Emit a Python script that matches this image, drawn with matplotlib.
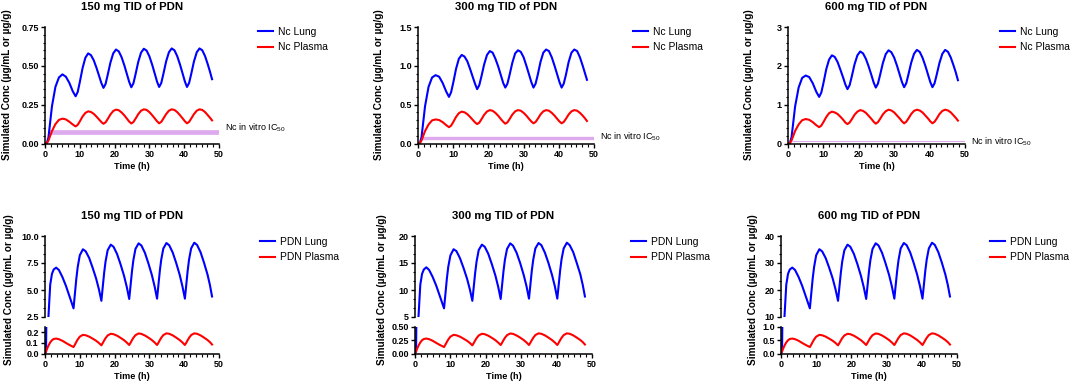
import matplotlib
matplotlib.use("Agg")
import matplotlib.pyplot as plt
from matplotlib.ticker import AutoMinorLocator

plt.rcParams['font.family'] = ['Liberation Sans', 'DejaVu Sans']
plt.rcParams['mathtext.default'] = 'regular'

# ---------------- data ----------------
doses = ["150", "300", "600"]

t_nc = [0, 0.5, 1, 1.5, 2, 3, 4, 5, 6, 7, 8, 8.8,
        9.4, 10, 10.8, 11.6, 12.4, 13.2, 14, 14.8, 15.6, 16.2, 16.8,
        17.4, 18, 18.8, 19.6, 20.4, 21.2, 22, 22.8, 23.6, 24.2, 24.8,
        25.4, 26, 26.8, 27.6, 28.4, 29.2, 30, 30.8, 31.6, 32.2, 32.8,
        33.4, 34, 34.8, 35.6, 36.4, 37.2, 38, 38.8, 39.6, 40.2, 40.8,
        41.4, 42, 42.8, 43.6, 44.4, 45.2, 46, 46.8, 47.4, 48]

nc_lung_150 = [0, 0, 0.04, 0.14, 0.24, 0.365, 0.425, 0.445, 0.43, 0.39, 0.335, 0.304,
               0.332, 0.395, 0.486, 0.552, 0.58, 0.569, 0.536, 0.487, 0.431, 0.389, 0.358,
               0.383, 0.44, 0.521, 0.58, 0.605, 0.593, 0.556, 0.503, 0.442, 0.396, 0.362,
               0.387, 0.444, 0.526, 0.585, 0.61, 0.598, 0.561, 0.507, 0.445, 0.398, 0.364,
               0.389, 0.446, 0.528, 0.587, 0.612, 0.6, 0.562, 0.508, 0.446, 0.399, 0.364,
               0.389, 0.446, 0.528, 0.587, 0.612, 0.6, 0.562, 0.508, 0.463, 0.414]
nc_plasma_150 = [0, 0, 0.02, 0.05, 0.08, 0.125, 0.152, 0.16, 0.155, 0.14, 0.122, 0.11,
                 0.12, 0.142, 0.174, 0.197, 0.207, 0.203, 0.191, 0.173, 0.153, 0.138, 0.127,
                 0.136, 0.157, 0.187, 0.209, 0.218, 0.214, 0.2, 0.181, 0.158, 0.141, 0.129,
                 0.138, 0.159, 0.189, 0.211, 0.22, 0.216, 0.202, 0.182, 0.16, 0.143, 0.13,
                 0.139, 0.16, 0.189, 0.211, 0.22, 0.216, 0.202, 0.182, 0.16, 0.143, 0.13,
                 0.139, 0.16, 0.189, 0.211, 0.22, 0.216, 0.202, 0.182, 0.166, 0.149]
nc_lung_300 = [0, 0, 0.08, 0.28, 0.48, 0.73, 0.85, 0.88, 0.86, 0.78, 0.67, 0.6,
               0.66, 0.78, 0.96, 1.09, 1.14, 1.12, 1.06, 0.96, 0.85, 0.77, 0.70,
               0.75, 0.86, 1.02, 1.14, 1.19, 1.17, 1.09, 0.99, 0.87, 0.78, 0.72,
               0.77, 0.88, 1.04, 1.16, 1.2, 1.18, 1.11, 1.0, 0.88, 0.79, 0.72,
               0.77, 0.88, 1.05, 1.17, 1.21, 1.19, 1.11, 1.0, 0.88, 0.79, 0.72,
               0.77, 0.88, 1.05, 1.17, 1.21, 1.19, 1.11, 1.0, 0.91, 0.82]
nc_plasma_300 = [0, 0, 0.04, 0.1, 0.16, 0.245, 0.298, 0.31, 0.302, 0.275, 0.237, 0.21,
                 0.23, 0.275, 0.342, 0.39, 0.41, 0.402, 0.378, 0.342, 0.302, 0.272, 0.25,
                 0.268, 0.31, 0.37, 0.412, 0.43, 0.421, 0.394, 0.357, 0.311, 0.28, 0.255,
                 0.272, 0.313, 0.372, 0.414, 0.43, 0.422, 0.395, 0.358, 0.314, 0.283, 0.26,
                 0.277, 0.316, 0.374, 0.414, 0.43, 0.422, 0.395, 0.358, 0.314, 0.283, 0.26,
                 0.277, 0.316, 0.374, 0.414, 0.43, 0.422, 0.395, 0.358, 0.326, 0.29]
nc_lung_600 = [0, 0, 0.16, 0.55, 0.95, 1.44, 1.69, 1.75, 1.71, 1.55, 1.33, 1.2,
               1.31, 1.55, 1.91, 2.16, 2.27, 2.23, 2.10, 1.90, 1.69, 1.52, 1.4,
               1.50, 1.72, 2.04, 2.27, 2.37, 2.32, 2.18, 1.98, 1.75, 1.57, 1.44,
               1.54, 1.76, 2.07, 2.30, 2.4, 2.35, 2.21, 2.00, 1.76, 1.58, 1.45,
               1.55, 1.77, 2.08, 2.31, 2.41, 2.36, 2.21, 2.00, 1.76, 1.58, 1.45,
               1.55, 1.77, 2.08, 2.31, 2.41, 2.36, 2.21, 2.00, 1.83, 1.63]
nc_plasma_600 = [0, 0, 0.08, 0.2, 0.32, 0.49, 0.6, 0.63, 0.61, 0.55, 0.47, 0.42,
                 0.46, 0.55, 0.68, 0.78, 0.82, 0.80, 0.76, 0.69, 0.61, 0.54, 0.5,
                 0.54, 0.62, 0.74, 0.82, 0.86, 0.84, 0.79, 0.71, 0.63, 0.56, 0.51,
                 0.55, 0.63, 0.75, 0.83, 0.87, 0.85, 0.80, 0.72, 0.64, 0.57, 0.52,
                 0.56, 0.64, 0.76, 0.84, 0.87, 0.85, 0.80, 0.72, 0.64, 0.57, 0.52,
                 0.56, 0.64, 0.76, 0.84, 0.87, 0.85, 0.80, 0.72, 0.66, 0.59]

nc_ic50 = 0.075
ic50_t = [1, 50]

t_pdn = [0, 0.3, 0.6, 1.0, 1.5, 2.0, 2.5, 3.2, 4, 5, 6, 7, 8.2,
         8.6, 9.0, 9.4, 10.0, 10.9, 11.7, 12.7, 13.7, 14.7, 15.5, 16.2,
         16.6, 17.0, 17.4, 18.0, 18.9, 19.7, 20.7, 21.7, 22.7, 23.5, 24.2,
         24.6, 25.0, 25.4, 26.0, 26.9, 27.7, 28.7, 29.7, 30.7, 31.5, 32.2,
         32.6, 33.0, 33.4, 34.0, 34.9, 35.7, 36.7, 37.7, 38.7, 39.5, 40.2,
         40.6, 41.0, 41.4, 42.0, 42.9, 43.7, 44.7, 45.7, 46.7, 47.4, 48.0]

pdn_lung_150 = [0, 0.02, 1.0, 2.6, 5.5, 6.5, 6.9, 7.07, 6.85, 6.2, 5.4, 4.45, 3.3,
                4.67, 6.04, 7.13, 8.22, 8.77, 8.58, 7.96, 7.05, 6.05, 5.05, 4.0,
                5.3, 6.6, 7.64, 8.68, 9.2, 9.0, 8.34, 7.39, 6.33, 5.28, 4.17,
                5.46, 6.75, 7.78, 8.81, 9.32, 9.12, 8.45, 7.48, 6.4, 5.33, 4.2,
                5.49, 6.78, 7.81, 8.84, 9.35, 9.14, 8.47, 7.5, 6.41, 5.33, 4.2,
                5.5, 6.79, 7.83, 8.86, 9.38, 9.17, 8.5, 7.52, 6.43, 5.45, 4.4]
pdn_plasma_150 = [0, 0.02, 0.045, 0.075, 0.105, 0.125, 0.137, 0.141, 0.135, 0.12, 0.1, 0.081, 0.061,
                  0.084, 0.109, 0.132, 0.159, 0.176, 0.172, 0.159, 0.14, 0.12, 0.099, 0.077,
                  0.099, 0.123, 0.145, 0.17, 0.186, 0.182, 0.168, 0.148, 0.126, 0.103, 0.08,
                  0.102, 0.126, 0.148, 0.173, 0.189, 0.185, 0.17, 0.15, 0.127, 0.104, 0.08,
                  0.102, 0.126, 0.148, 0.174, 0.19, 0.186, 0.171, 0.15, 0.127, 0.104, 0.08,
                  0.102, 0.126, 0.148, 0.174, 0.19, 0.186, 0.171, 0.15, 0.127, 0.107, 0.085]
pdn_lung_300 = [0, 0.04, 2.0, 5.2, 11.0, 13.0, 13.8, 14.2, 13.7, 12.4, 10.8, 8.9, 6.6,
                9.3, 12.1, 14.3, 16.4, 17.55, 17.2, 15.9, 14.1, 12.1, 10.1, 8.0,
                10.6, 13.2, 15.3, 17.4, 18.4, 18.0, 16.7, 14.8, 12.7, 10.6, 8.34,
                10.9, 13.5, 15.6, 17.6, 18.64, 18.2, 16.9, 15.0, 12.8, 10.7, 8.4,
                11.0, 13.6, 15.6, 17.7, 18.7, 18.3, 16.9, 15.0, 12.8, 10.7, 8.4,
                11.0, 13.6, 15.7, 17.7, 18.76, 18.3, 17.0, 15.0, 12.9, 10.9, 8.8]
pdn_plasma_300 = [0, 0.04, 0.09, 0.15, 0.21, 0.25, 0.274, 0.282, 0.27, 0.24, 0.2, 0.162, 0.122,
                  0.168, 0.218, 0.264, 0.318, 0.352, 0.344, 0.318, 0.28, 0.24, 0.198, 0.154,
                  0.198, 0.246, 0.29, 0.34, 0.372, 0.364, 0.336, 0.296, 0.252, 0.206, 0.16,
                  0.204, 0.252, 0.296, 0.346, 0.378, 0.37, 0.34, 0.3, 0.254, 0.208, 0.16,
                  0.204, 0.252, 0.296, 0.348, 0.38, 0.372, 0.342, 0.3, 0.254, 0.208, 0.16,
                  0.204, 0.252, 0.296, 0.348, 0.38, 0.372, 0.342, 0.3, 0.254, 0.214, 0.17]
pdn_lung_600 = [0, 0.08, 4.0, 10.4, 22.0, 26.0, 27.6, 28.3, 27.4, 24.8, 21.6, 17.8, 13.2,
                18.7, 24.2, 28.5, 32.9, 35.1, 34.3, 31.8, 28.2, 24.2, 20.2, 16.0,
                21.2, 26.4, 30.6, 34.7, 36.8, 36.0, 33.4, 29.6, 25.3, 21.1, 16.7,
                21.8, 27.0, 31.1, 35.2, 37.3, 36.5, 33.8, 29.9, 25.6, 21.3, 16.8,
                22.0, 27.1, 31.2, 35.4, 37.4, 36.6, 33.9, 30.0, 25.6, 21.3, 16.8,
                22.0, 27.2, 31.3, 35.4, 37.5, 36.7, 34.0, 30.1, 25.7, 21.8, 17.6]
pdn_plasma_600 = [0, 0.08, 0.18, 0.3, 0.42, 0.5, 0.548, 0.564, 0.54, 0.48, 0.4, 0.324, 0.244,
                  0.336, 0.436, 0.528, 0.636, 0.704, 0.688, 0.636, 0.56, 0.48, 0.396, 0.308,
                  0.396, 0.492, 0.58, 0.68, 0.744, 0.728, 0.672, 0.592, 0.504, 0.412, 0.32,
                  0.408, 0.504, 0.592, 0.692, 0.756, 0.74, 0.68, 0.6, 0.508, 0.416, 0.32,
                  0.408, 0.504, 0.592, 0.696, 0.76, 0.744, 0.684, 0.6, 0.508, 0.416, 0.32,
                  0.408, 0.504, 0.592, 0.696, 0.76, 0.744, 0.684, 0.6, 0.508, 0.428, 0.34]

x_ticks = [0, 10, 20, 30, 40, 50]
nc_yticks = [[0, 0.25, 0.5, 0.75], [0, 0.5, 1.0, 1.5], [0, 1, 2, 3]]
nc_ylabels = [["0.00", "0.25", "0.50", "0.75"], ["0.0", "0.5", "1.0", "1.5"], ["0", "1", "2", "3"]]
pdn_up_ticks = [[2.5, 5, 7.5, 10], [5, 10, 15, 20], [10, 20, 30, 40]]
pdn_up_labels = [["2.5", "5.0", "7.5", "10.0"], ["5", "10", "15", "20"], ["10", "20", "30", "40"]]
pdn_lo_ticks = [[0, 0.1, 0.2], [0, 0.25, 0.5], [0, 0.5, 1.0]]
pdn_lo_labels = [["0.0", "0.1", "0.2"], ["0.00", "0.25", "0.50"], ["0.0", "0.5", "1.0"]]
pdn_lo_lim = [0.25, 0.5, 1.0]

nc_lung = [nc_lung_150, nc_lung_300, nc_lung_600]
nc_plasma = [nc_plasma_150, nc_plasma_300, nc_plasma_600]
pdn_lung = [pdn_lung_150, pdn_lung_300, pdn_lung_600]
pdn_plasma = [pdn_plasma_150, pdn_plasma_300, pdn_plasma_600]

# ---------------- layout ----------------
W, H = 1072, 385
fig = plt.figure(figsize=(W / 100, H / 100), dpi=100)

BLUE = '#0000FF'
RED = '#FF0000'
IC_COL = '#DDAAEE'
LW = 1.5
FS_TICK = 6.5
FS_LAB = 6.6
FS_YLAB = 7.2
FS_TITLE = 8.2
FS_LEG = 7.4


def add_ax(x0, x1, ytop, ybot):
    return fig.add_axes([x0 / W, 1 - ybot / H, (x1 - x0) / W, (ybot - ytop) / H])


def style(ax, show_x=True):
    for s in ['top', 'right']:
        ax.spines[s].set_visible(False)
    ax.spines['left'].set_linewidth(1.1)
    ax.spines['bottom'].set_linewidth(1.1)
    ax.tick_params(which='major', direction='out', length=3, width=1.0, pad=1.5,
                   labelsize=FS_TICK)
    ax.tick_params(which='minor', direction='out', length=1.8, width=0.8)
    for lab in ax.get_xticklabels() + ax.get_yticklabels():
        lab.set_fontweight('bold')
    if not show_x:
        ax.spines['bottom'].set_visible(False)
        ax.tick_params(axis='x', which='both', bottom=False, labelbottom=False)


top_x = [(45, 219), (418, 594), (788, 965)]
bot_x = [(45, 219), (415, 592), (781, 957)]
top_leg = [(258, 27), (633, 27), (1000, 27)]
bot_leg = [(260, 237), (631, 237), (990, 237)]
ylab_top_x = [7, 379, 749]
ylab_bot_x = [9, 382, 753]
ic_dy = [3, 1, -0.5]
ic_lw = [3.4, 2.4, 0.8]

for i, d in enumerate(doses):
    # ---- top row: Nc ----
    x0, x1 = top_x[i]
    ax = add_ax(x0, x1, 27, 143.5)
    ax.plot(t_nc, nc_lung[i], color=BLUE, lw=LW, label='Nc Lung')
    ax.plot(t_nc, nc_plasma[i], color=RED, lw=LW, label='Nc Plasma')
    ax.plot(ic50_t, [nc_ic50, nc_ic50], color=IC_COL, lw=ic_lw[i], zorder=1,
            solid_capstyle='butt')
    ax.annotate('Nc in vitro IC$_{50}$', xy=(50, nc_ic50), xytext=(4, ic_dy[i]),
                textcoords='offset points', va='center', ha='left', fontsize=6.5,
                annotation_clip=False)
    ax.set_xlim(0, 50)
    ax.set_ylim(nc_yticks[i][0], nc_yticks[i][-1])
    ax.set_xticks(x_ticks)
    ax.set_xticklabels([str(v) for v in x_ticks])
    ax.set_yticks(nc_yticks[i])
    ax.set_yticklabels(nc_ylabels[i])
    ax.xaxis.set_minor_locator(AutoMinorLocator(6))
    ax.yaxis.set_minor_locator(AutoMinorLocator(5))
    style(ax)
    ax.set_title(f'{d} mg TID of PDN', fontsize=FS_TITLE, fontweight='bold', pad=12)
    ax.set_xlabel('Time (h)', fontsize=FS_LAB, fontweight='bold', labelpad=2)
    fig.text(ylab_top_x[i] / W, 1 - 85 / H, 'Simulated Conc (µg/mL or µg/g)',
             rotation=90, ha='center', va='center', fontsize=FS_YLAB, fontweight='bold')
    lx, ly = top_leg[i]
    ax.legend(loc='upper left', bbox_to_anchor=(lx / W, 1 - ly / H),
              bbox_transform=fig.transFigure, frameon=False, fontsize=FS_LEG,
              handlelength=1.5, handletextpad=0.45, labelspacing=0.5,
              borderpad=0, borderaxespad=0)

    # ---- bottom row: PDN (broken axis) ----
    x0, x1 = bot_x[i]
    axu = add_ax(x0, x1, 236, 317)
    axl = add_ax(x0, x1, 327, 353.5)
    for a in (axu, axl):
        a.plot(t_pdn, pdn_lung[i], color=BLUE, lw=LW, label='PDN Lung')
        a.plot(t_pdn, pdn_plasma[i], color=RED, lw=LW, label='PDN Plasma')
        a.set_xlim(0, 50)
    axu.set_ylim(pdn_up_ticks[i][0], pdn_up_ticks[i][-1])
    axu.set_yticks(pdn_up_ticks[i])
    axu.set_yticklabels(pdn_up_labels[i])
    axu.yaxis.set_minor_locator(AutoMinorLocator(3))
    style(axu, show_x=False)
    axl.set_ylim(0, pdn_lo_lim[i])
    axl.set_yticks(pdn_lo_ticks[i])
    axl.set_yticklabels(pdn_lo_labels[i])
    axl.set_xticks(x_ticks)
    axl.set_xticklabels([str(v) for v in x_ticks])
    axl.xaxis.set_minor_locator(AutoMinorLocator(6))
    style(axl)
    axu.set_title(f'{d} mg TID of PDN', fontsize=FS_TITLE, fontweight='bold', pad=12)
    axl.set_xlabel('Time (h)', fontsize=FS_LAB, fontweight='bold', labelpad=2)
    fig.text(ylab_bot_x[i] / W, 1 - 290 / H, 'Simulated Conc (µg/mL or µg/g)',
             rotation=90, ha='center', va='center', fontsize=FS_YLAB, fontweight='bold')
    lx, ly = bot_leg[i]
    axu.legend(loc='upper left', bbox_to_anchor=(lx / W, 1 - ly / H),
               bbox_transform=fig.transFigure, frameon=False, fontsize=FS_LEG,
               handlelength=1.5, handletextpad=0.45, labelspacing=0.5,
               borderpad=0, borderaxespad=0)

fig.savefig('out.png', dpi=100)
